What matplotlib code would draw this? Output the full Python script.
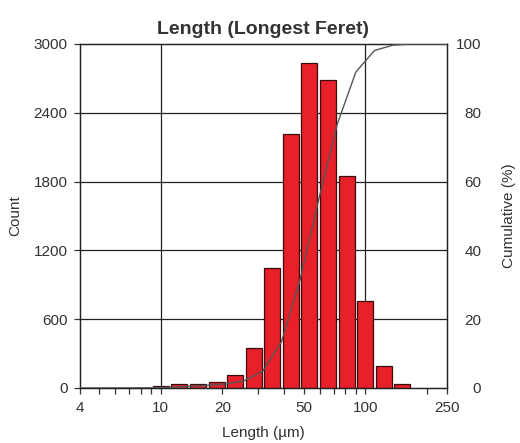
import numpy as np
import matplotlib.pyplot as plt
from matplotlib.ticker import FixedLocator, NullFormatter

plt.rcParams['font.family'] = ['Liberation Sans', 'DejaVu Sans']

# bin centres, 11 bins per decade starting at 10 um
bin_index = [-1, 0, 1, 2, 3, 4, 5, 6, 7, 8, 9, 10, 11, 12, 13]
counts = [4, 17, 37, 35, 50, 115, 350, 1048, 2218, 2836, 2690, 1850, 760, 194, 39]

x_ticks = [4, 10, 20, 50, 100, 250]
x_minor = [5, 6, 7, 8, 9, 30, 40, 60, 70, 80, 90, 200]
y_ticks = [0, 600, 1200, 1800, 2400, 3000]
cum_ticks = [0, 20, 40, 60, 80, 100]

step = 1.0 / 11
k = np.array(bin_index, dtype=float)
lefts = 10 ** (1 + (k - 0.43) * step)
rights = 10 ** (1 + (k + 0.43) * step)
upper_edges = 10 ** (1 + (k + 0.5) * step)

counts = np.array(counts, dtype=float)
cum = np.cumsum(counts) / counts.sum() * 100

txt = '#333333'
fs = 11

fig = plt.figure(figsize=(5.2, 4.43), dpi=100)
ax = fig.add_axes([0.1529, 0.1242, 0.7058, 0.7765])
ax.set_xscale('log')
ax.set_xlim(4, 250)
ax.set_ylim(0, 3000)

ax.bar(lefts, counts, width=rights - lefts, align='edge',
       color='#e8202a', edgecolor='#3a0c0c', linewidth=0.9, zorder=3)

ax.xaxis.set_major_locator(FixedLocator(x_ticks))
ax.xaxis.set_minor_locator(FixedLocator(x_minor))
ax.xaxis.set_minor_formatter(NullFormatter())
ax.set_xticklabels([str(t) for t in x_ticks])
ax.set_yticks(y_ticks)

for xv in [10, 100]:
    ax.axvline(xv, color='#222222', linewidth=0.9, zorder=1)
for yv in y_ticks[1:-1]:
    ax.axhline(yv, color='#222222', linewidth=0.9, zorder=1)

ax.tick_params(axis='both', which='major', labelsize=fs, length=4.5,
               width=0.9, color='#333333', labelcolor=txt)
ax.tick_params(axis='x', which='major', pad=5)
ax.tick_params(axis='y', which='major', pad=4)
ax.tick_params(axis='x', which='minor', length=4.5, width=0.9, color='#333333')
for s in ax.spines.values():
    s.set_linewidth(0.9)
    s.set_color('#222222')

ax.set_xlabel('Length (µm)', fontsize=fs, color=txt, labelpad=8)
ax.set_ylabel('Count', fontsize=fs, color=txt, labelpad=8)
ax.set_title('Length (Longest Feret)', fontsize=14, fontweight='bold',
             color=txt, pad=7)

ax2 = ax.twinx()
ax2.set_ylim(0, 100)
ax2.set_yticks(cum_ticks)
cx = np.concatenate([[4], upper_edges, [250]])
cy = np.concatenate([[0], cum, [100]])
ax2.plot(cx, cy, color='#555555', linewidth=1.0, zorder=4)
ax2.tick_params(axis='y', labelsize=fs, length=0, pad=25,
                labelcolor=txt)
for lab in ax2.get_yticklabels():
    lab.set_horizontalalignment('right')
ax2.set_ylabel('Cumulative (%)', fontsize=fs, color=txt, labelpad=15)
for s in ax2.spines.values():
    s.set_linewidth(0.9)
    s.set_color('#222222')

fig.savefig('out.png', dpi=100)
